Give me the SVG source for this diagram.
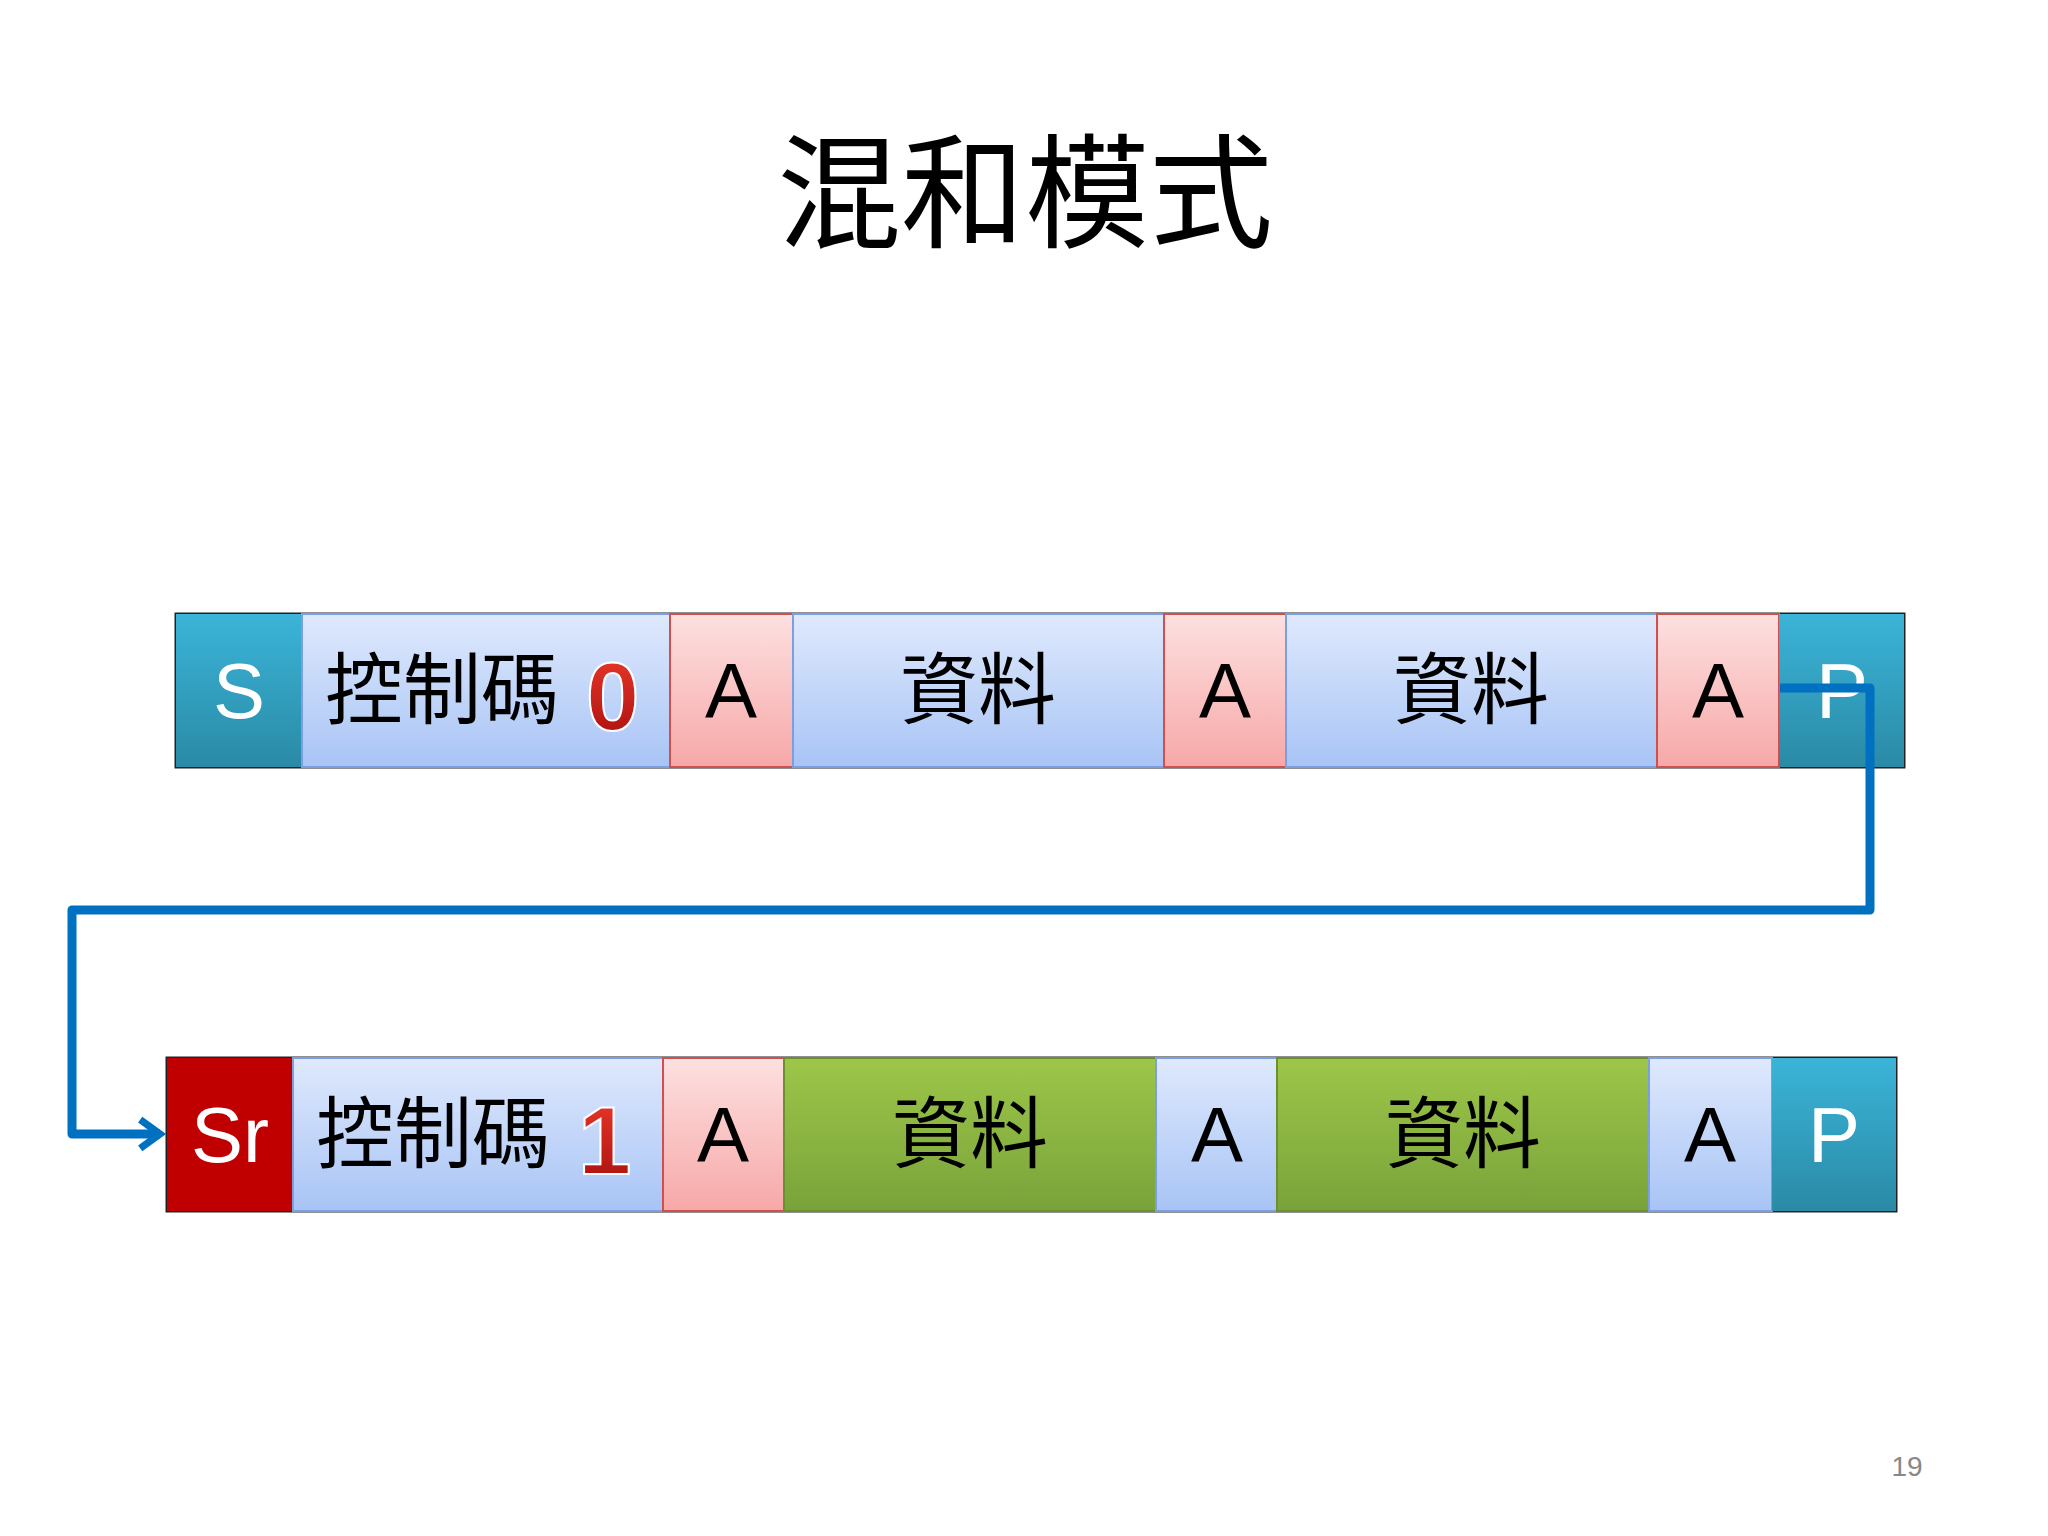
<svg xmlns="http://www.w3.org/2000/svg" width="2048" height="1536" viewBox="0 0 2048 1536">
<defs>
<linearGradient id="teal" x1="0" y1="0" x2="0" y2="1"><stop offset="0" stop-color="#3bb4d8"/><stop offset="1" stop-color="#2a8aa6"/></linearGradient>
<linearGradient id="blue" x1="0" y1="0" x2="0" y2="1"><stop offset="0" stop-color="#dfe9fd"/><stop offset="1" stop-color="#a8c4f5"/></linearGradient>
<linearGradient id="pink" x1="0" y1="0" x2="0" y2="1"><stop offset="0" stop-color="#fde0e0"/><stop offset="1" stop-color="#f7a8a8"/></linearGradient>
<linearGradient id="green" x1="0" y1="0" x2="0" y2="1"><stop offset="0" stop-color="#9dc649"/><stop offset="1" stop-color="#79a33a"/></linearGradient>
<linearGradient id="red" x1="0" y1="0" x2="0" y2="1"><stop offset="0" stop-color="#ef3b2c"/><stop offset="1" stop-color="#a50d0d"/></linearGradient>
<marker id="arr" markerWidth="4" markerHeight="4" refX="2.6" refY="2" orient="auto" markerUnits="strokeWidth"><path d="M0.4,0.4 L2.6,2 L0.4,3.6" fill="none" stroke="#0070c0" stroke-width="0.8"/></marker>
</defs>
<style>
.t{font-family:"Liberation Sans","Open Sans",sans-serif;font-size:78px;text-anchor:middle;fill:#000}
.w{fill:#fff}
.c{font-family:"Noto Sans CJK TC",sans-serif;font-size:78px;text-anchor:middle;fill:#000}
.n{font-family:"Liberation Sans",sans-serif;font-weight:bold;font-size:96px;fill:url(#red);stroke:#fff;stroke-width:2}
.cl{stroke-width:2}
</style>
<rect width="2048" height="1536" fill="#fff"/>
<text x="1025" y="238" font-family="Noto Sans CJK TC,serif" font-size="124" text-anchor="middle" fill="#000">混和模式</text>
<g id="row1">
<rect x="176" y="614" width="1728" height="153" fill="none" stroke="#222" stroke-width="3"/>
<g id="S"><rect x="176" y="614" width="126" height="153" fill="url(#teal)"/><text class="t w" x="239" y="718">S</text></g>
<g id="ctrl0"><rect x="302" y="614" width="368" height="153" fill="url(#blue)" stroke="#7b9fe0" stroke-width="2"/><text class="c" x="442" y="718">控制碼</text><text class="n" x="586" y="730">0</text></g>
<g id="A1"><rect x="670" y="614" width="123" height="153" fill="url(#pink)" stroke="#d05050" stroke-width="2"/><text class="t" x="731" y="718">A</text></g>
<g id="D1"><rect x="793" y="614" width="371" height="153" fill="url(#blue)" stroke="#7b9fe0" stroke-width="2"/><text class="c" x="978" y="718">資料</text></g>
<g id="A2"><rect x="1164" y="614" width="122" height="153" fill="url(#pink)" stroke="#d05050" stroke-width="2"/><text class="t" x="1225" y="718">A</text></g>
<g id="D2"><rect x="1286" y="614" width="371" height="153" fill="url(#blue)" stroke="#7b9fe0" stroke-width="2"/><text class="c" x="1471" y="718">資料</text></g>
<g id="A3"><rect x="1657" y="614" width="122" height="153" fill="url(#pink)" stroke="#d05050" stroke-width="2"/><text class="t" x="1718" y="718">A</text></g>
<g id="P1"><rect x="1779" y="614" width="125" height="153" fill="url(#teal)"/><text class="t w" x="1842" y="718">P</text></g>
</g>
<g id="row2">
<rect x="167" y="1058" width="1729" height="153" fill="none" stroke="#222" stroke-width="3"/>
<g id="Sr"><rect x="167" y="1058" width="126" height="153" fill="#c00000"/><text class="t w" x="230" y="1162">Sr</text></g>
<g id="ctrl1"><rect x="293" y="1058" width="370" height="153" fill="url(#blue)" stroke="#7b9fe0" stroke-width="2"/><text class="c" x="433" y="1162">控制碼</text><text class="n" x="578" y="1174">1</text></g>
<g id="A4"><rect x="663" y="1058" width="121" height="153" fill="url(#pink)" stroke="#d05050" stroke-width="2"/><text class="t" x="723" y="1162">A</text></g>
<g id="D3"><rect x="784" y="1058" width="372" height="153" fill="url(#green)" stroke="#6a9030" stroke-width="2"/><text class="c w" x="970" y="1162">資料</text></g>
<g id="A5"><rect x="1156" y="1058" width="121" height="153" fill="url(#blue)" stroke="#7b9fe0" stroke-width="2"/><text class="t" x="1217" y="1162">A</text></g>
<g id="D4"><rect x="1277" y="1058" width="372" height="153" fill="url(#green)" stroke="#6a9030" stroke-width="2"/><text class="c w" x="1463" y="1162">資料</text></g>
<g id="A6"><rect x="1649" y="1058" width="123" height="153" fill="url(#blue)" stroke="#7b9fe0" stroke-width="2"/><text class="t" x="1710" y="1162">A</text></g>
<g id="P2"><rect x="1772" y="1058" width="124" height="153" fill="url(#teal)"/><text class="t w" x="1834" y="1162">P</text></g>
</g>
<g id="connectors">
<path d="M1780,688 H1870 V910 H72 V1134 H160" fill="none" stroke="#0070c0" stroke-width="9" stroke-linejoin="round" marker-end="url(#arr)"/>
</g>
<text x="1907" y="1476" font-family="Liberation Sans,sans-serif" font-size="28" text-anchor="middle" fill="#888">19</text>
</svg>
